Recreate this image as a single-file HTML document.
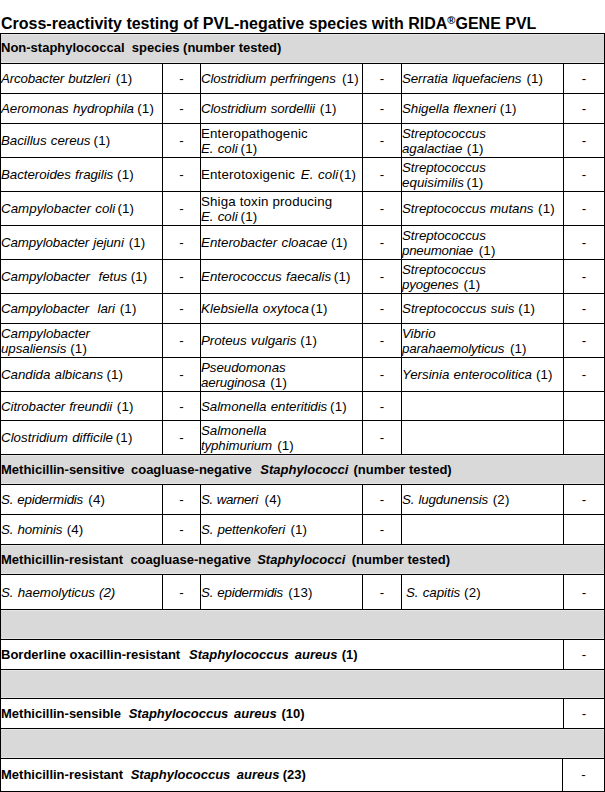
<!DOCTYPE html>
<html><head><meta charset="utf-8"><title>Cross-reactivity testing of PVL-negative species with RIDA GENE PVL</title>
<style>
html,body{margin:0;padding:0;background:#fff;}
body{width:605px;height:792px;position:relative;overflow:hidden;font-family:"Liberation Sans",Arial,sans-serif;color:#000;}
.t{position:absolute;left:1px;top:14px;font-size:16px;font-weight:bold;line-height:20px;white-space:nowrap;}
.t sup{font-size:11px;line-height:0;vertical-align:5px;}
.g{position:absolute;left:0;width:605px;background:#d9d9d9;box-shadow:inset 0 0 0 1px #e6e6e6;}
.hl,.vl{position:absolute;background:#000;}
.c{position:absolute;display:flex;align-items:center;font-size:13.33px;line-height:15px;white-space:pre;}
.c.n{padding-left:0;letter-spacing:0.15px;}
.c.h{font-weight:bold;padding-left:0;font-size:13px;}
.c.d{justify-content:center;}
.c i{letter-spacing:var(--ls,-0.05px);word-spacing:0.6px;}
.c i.f{letter-spacing:-0.05px;}
.c.h i{letter-spacing:0;word-spacing:0;}
.sp{letter-spacing:0;}
</style></head><body>
<div class="t">Cross-reactivity testing of PVL-negative species with RIDA<sup>®</sup>GENE PVL</div>

<div class="g" style="top:34px;height:29px"></div>
<div class="g" style="top:455px;height:29px"></div>
<div class="g" style="top:545px;height:29px"></div>
<div class="g" style="top:610px;height:29px"></div>
<div class="g" style="top:670px;height:28px"></div>
<div class="g" style="top:729px;height:29px"></div>
<div class="c n" style="left:1px;top:64px;width:160px;height:29px;--ls:-0.145px;"><span><i>Arcobacter butzleri</i><span class="sp" style="margin-left:2.00px"> </span>(1)</span></div>
<div class="c d" style="left:163px;top:64px;width:37px;height:29px;"><span>-</span></div>
<div class="c n" style="left:201px;top:64px;width:160px;height:29px;--ls:-0.128px;"><span><i>Clostridium perfringens</i><span class="sp" style="margin-left:2.60px"> </span>(1)</span></div>
<div class="c d" style="left:363px;top:64px;width:38px;height:29px;"><span>-</span></div>
<div class="c n" style="left:402px;top:64px;width:160px;height:29px;--ls:-0.093px;"><span><i>Serratia liquefaciens</i><span class="sp" style="margin-left:1.30px"> </span>(1)</span></div>
<div class="c d" style="left:564px;top:64px;width:40px;height:29px;"><span>-</span></div>
<div class="c n" style="left:1px;top:94px;width:160px;height:29px;"><span><i>Aeromonas hydrophila</i><span class="sp" style="margin-left:-0.40px"> </span>(1)</span></div>
<div class="c d" style="left:163px;top:94px;width:37px;height:29px;"><span>-</span></div>
<div class="c n" style="left:201px;top:94px;width:160px;height:29px;--ls:-0.107px;"><span><i>Clostridium sordellii</i><span class="sp" style="margin-left:1.20px"> </span>(1)</span></div>
<div class="c d" style="left:363px;top:94px;width:38px;height:29px;"><span>-</span></div>
<div class="c n" style="left:402px;top:94px;width:160px;height:29px;"><span><i>Shigella flexneri</i><span class="sp" style="margin-left:0.30px"> </span>(1)</span></div>
<div class="c d" style="left:564px;top:94px;width:40px;height:29px;"><span>-</span></div>
<div class="c n" style="left:1px;top:124px;width:160px;height:33px;"><span><i>Bacillus cereus</i><span class="sp" style="margin-left:-0.60px"> </span>(1)</span></div>
<div class="c d" style="left:163px;top:124px;width:37px;height:33px;"><span>-</span></div>
<div class="c n" style="left:201px;top:124px;width:160px;height:33px;"><span>Enteropathogenic<br><i>E. coli</i><span class="sp" style="margin-left:-0.70px"> </span>(1)</span></div>
<div class="c d" style="left:363px;top:124px;width:38px;height:33px;"><span>-</span></div>
<div class="c n" style="left:402px;top:124px;width:160px;height:33px;"><span><i class="f">Streptococcus</i><br><i>agalactiae</i><span class="sp" style="margin-left:0.90px"> </span>(1)</span></div>
<div class="c d" style="left:564px;top:124px;width:40px;height:33px;"><span>-</span></div>
<div class="c n" style="left:1px;top:158px;width:160px;height:33px;"><span><i>Bacteroides fragilis</i> (1)</span></div>
<div class="c d" style="left:163px;top:158px;width:37px;height:33px;"><span>-</span></div>
<div class="c n" style="left:201px;top:158px;width:160px;height:33px;--ls:0.079px;"><span>Enterotoxigenic<span class="sp" style="margin-left:2px"> </span><i>E. coli</i><span class="sp" style="margin-left:-2.70px"> </span>(1)</span></div>
<div class="c d" style="left:363px;top:158px;width:38px;height:33px;"><span>-</span></div>
<div class="c n" style="left:402px;top:158px;width:160px;height:33px;--ls:0.041px;"><span><i class="f">Streptococcus</i><br><i>equisimilis</i><span class="sp" style="margin-left:-1.10px"> </span>(1)</span></div>
<div class="c d" style="left:564px;top:158px;width:40px;height:33px;"><span>-</span></div>
<div class="c n" style="left:1px;top:192px;width:160px;height:33px;--ls:0.022px;"><span><i>Campylobacter coli</i><span class="sp" style="margin-left:-1.60px"> </span>(1)</span></div>
<div class="c d" style="left:163px;top:192px;width:37px;height:33px;"><span>-</span></div>
<div class="c n" style="left:201px;top:192px;width:160px;height:33px;"><span>Shiga toxin producing<br><i>E. coli</i><span class="sp" style="margin-left:-0.70px"> </span>(1)</span></div>
<div class="c d" style="left:363px;top:192px;width:38px;height:33px;"><span>-</span></div>
<div class="c n" style="left:402px;top:192px;width:160px;height:33px;"><span><i>Streptococcus mutans</i><span class="sp" style="margin-left:0.90px"> </span>(1)</span></div>
<div class="c d" style="left:564px;top:192px;width:40px;height:33px;"><span>-</span></div>
<div class="c n" style="left:1px;top:226px;width:160px;height:33px;--ls:-0.115px;"><span><i>Campylobacter jejuni</i><span class="sp" style="margin-left:1.20px"> </span>(1)</span></div>
<div class="c d" style="left:163px;top:226px;width:37px;height:33px;"><span>-</span></div>
<div class="c n" style="left:201px;top:226px;width:160px;height:33px;--ls:-0.010px;"><span><i>Enterobacter cloacae</i><span class="sp" style="margin-left:-0.20px"> </span>(1)</span></div>
<div class="c d" style="left:363px;top:226px;width:38px;height:33px;"><span>-</span></div>
<div class="c n" style="left:402px;top:226px;width:160px;height:33px;--ls:-0.250px;"><span><i class="f">Streptococcus</i><br><i>pneumoniae</i><span class="sp" style="margin-left:2.20px"> </span>(1)</span></div>
<div class="c d" style="left:564px;top:226px;width:40px;height:33px;"><span>-</span></div>
<div class="c n" style="left:1px;top:260px;width:160px;height:33px;"><span><i>Campylobacter  fetus</i><span class="sp" style="margin-left:-0.20px"> </span>(1)</span></div>
<div class="c d" style="left:163px;top:260px;width:37px;height:33px;"><span>-</span></div>
<div class="c n" style="left:201px;top:260px;width:160px;height:33px;--ls:-0.002px;"><span><i>Enterococcus faecalis</i><span class="sp" style="margin-left:-1.10px"> </span>(1)</span></div>
<div class="c d" style="left:363px;top:260px;width:38px;height:33px;"><span>-</span></div>
<div class="c n" style="left:402px;top:260px;width:160px;height:33px;--ls:-0.150px;"><span><i class="f">Streptococcus</i><br><i>pyogenes</i><span class="sp" style="margin-left:1.20px"> </span>(1)</span></div>
<div class="c d" style="left:564px;top:260px;width:40px;height:33px;"><span>-</span></div>
<div class="c n" style="left:1px;top:294px;width:160px;height:29px;--ls:-0.113px;"><span><i>Campylobacter  lari</i><span class="sp" style="margin-left:1.20px"> </span>(1)</span></div>
<div class="c d" style="left:163px;top:294px;width:37px;height:29px;"><span>-</span></div>
<div class="c n" style="left:201px;top:294px;width:160px;height:29px;--ls:0.039px;"><span><i>Klebsiella oxytoca</i><span class="sp" style="margin-left:-1.90px"> </span>(1)</span></div>
<div class="c d" style="left:363px;top:294px;width:38px;height:29px;"><span>-</span></div>
<div class="c n" style="left:402px;top:294px;width:160px;height:29px;--ls:0.000px;"><span><i>Streptococcus suis</i> (1)</span></div>
<div class="c d" style="left:564px;top:294px;width:40px;height:29px;"><span>-</span></div>
<div class="c n" style="left:1px;top:324px;width:160px;height:33px;"><span><i class="f">Campylobacter</i><br><i>upsaliensis</i><span class="sp" style="margin-left:0.20px"> </span>(1)</span></div>
<div class="c d" style="left:163px;top:324px;width:37px;height:33px;"><span>-</span></div>
<div class="c n" style="left:201px;top:324px;width:160px;height:33px;"><span><i>Proteus vulgaris</i> (1)</span></div>
<div class="c d" style="left:363px;top:324px;width:38px;height:33px;"><span>-</span></div>
<div class="c n" style="left:402px;top:324px;width:160px;height:33px;--ls:-0.131px;"><span><i class="f">Vibrio</i><br><i>parahaemolyticus</i><span class="sp" style="margin-left:1.80px"> </span>(1)</span></div>
<div class="c d" style="left:564px;top:324px;width:40px;height:33px;"><span>-</span></div>
<div class="c n" style="left:1px;top:358px;width:160px;height:33px;"><span><i>Candida albicans</i><span class="sp" style="margin-left:-0.40px"> </span>(1)</span></div>
<div class="c d" style="left:163px;top:358px;width:37px;height:33px;"><span>-</span></div>
<div class="c n" style="left:201px;top:358px;width:160px;height:33px;--ls:-0.180px;"><span><i class="f">Pseudomonas</i><br><i>aeruginosa</i><span class="sp" style="margin-left:1.40px"> </span>(1)</span></div>
<div class="c d" style="left:363px;top:358px;width:38px;height:33px;"><span>-</span></div>
<div class="c n" style="left:402px;top:358px;width:160px;height:33px;--ls:-0.011px;"><span><i>Yersinia enterocolitica</i><span class="sp" style="margin-left:0.20px"> </span>(1)</span></div>
<div class="c d" style="left:564px;top:358px;width:40px;height:33px;"><span>-</span></div>
<div class="c n" style="left:1px;top:392px;width:160px;height:28px;--ls:-0.105px;"><span><i>Citrobacter freundii</i><span class="sp" style="margin-left:1.00px"> </span>(1)</span></div>
<div class="c d" style="left:163px;top:392px;width:37px;height:28px;"><span>-</span></div>
<div class="c n" style="left:201px;top:392px;width:160px;height:28px;"><span><i>Salmonella enteritidis</i><span class="sp" style="margin-left:-0.80px"> </span>(1)</span></div>
<div class="c d" style="left:363px;top:392px;width:38px;height:28px;"><span>-</span></div>
<div class="c n" style="left:1px;top:421px;width:160px;height:33px;--ls:0.017px;"><span><i>Clostridium difficile</i><span class="sp" style="margin-left:-1.00px"> </span>(1)</span></div>
<div class="c d" style="left:163px;top:421px;width:37px;height:33px;"><span>-</span></div>
<div class="c n" style="left:201px;top:421px;width:160px;height:33px;--ls:-0.141px;"><span><i class="f">Salmonella</i><br><i>typhimurium</i><span class="sp" style="margin-left:1.40px"> </span>(1)</span></div>
<div class="c d" style="left:363px;top:421px;width:38px;height:33px;"><span>-</span></div>
<div class="c h" style="left:1px;top:34px;width:602px;height:29px;padding-bottom:2px;box-sizing:border-box"><span>Non-staphylococcal  species (number tested)</span></div>
<div class="c h" style="left:1px;top:455px;width:602px;height:29px;"><span>Methicillin-sensitive<span class="sp" style="margin-left:2.8px"> </span>coagluase-negative<span class="sp" style="margin-left:1.4px"> </span> <i>Staphylococci</i><span class="sp" style="margin-left:1.4px"> </span>(number tested)</span></div>
<div class="c n" style="left:1px;top:485px;width:160px;height:29px;--ls:-0.214px;"><span><i>S. epidermidis</i><span class="sp" style="margin-left:1.60px"> </span>(4)</span></div>
<div class="c d" style="left:163px;top:485px;width:37px;height:29px;"><span>-</span></div>
<div class="c n" style="left:201px;top:485px;width:160px;height:29px;--ls:-0.390px;"><span><i>S. warneri</i><span class="sp" style="margin-left:3.20px"> </span>(4)</span></div>
<div class="c d" style="left:363px;top:485px;width:38px;height:29px;"><span>-</span></div>
<div class="c n" style="left:402px;top:485px;width:160px;height:29px;--ls:-0.143px;"><span><i>S. lugdunensis</i><span class="sp" style="margin-left:1.00px"> </span>(2)</span></div>
<div class="c d" style="left:564px;top:485px;width:40px;height:29px;"><span>-</span></div>
<div class="c n" style="left:1px;top:515px;width:160px;height:29px;--ls:-0.150px;"><span><i>S. hominis</i><span class="sp" style="margin-left:0.70px"> </span>(4)</span></div>
<div class="c d" style="left:163px;top:515px;width:37px;height:29px;"><span>-</span></div>
<div class="c n" style="left:201px;top:515px;width:160px;height:29px;--ls:-0.163px;"><span><i>S. pettenkoferi</i><span class="sp" style="margin-left:1.60px"> </span>(1)</span></div>
<div class="c d" style="left:363px;top:515px;width:38px;height:29px;"><span>-</span></div>
<div class="c h" style="left:1px;top:545px;width:602px;height:29px;"><span>Methicillin-resistant<span class="sp" style="margin-left:3.7px"> </span>coagluase-negative<span class="sp" style="margin-left:-1.1px"> </span> <i>Staphylococci</i><span class="sp" style="margin-left:2.8px"> </span>(number tested)</span></div>
<div class="c n" style="left:1px;top:575px;width:160px;height:34px;"><span><i>S. haemolyticus</i><span class="sp" style="margin-left:0.40px"> </span><i>(2)</i></span></div>
<div class="c d" style="left:163px;top:575px;width:37px;height:34px;"><span>-</span></div>
<div class="c n" style="left:201px;top:575px;width:160px;height:34px;--ls:-0.214px;"><span><i>S. epidermidis</i><span class="sp" style="margin-left:1.50px"> </span>(13)</span></div>
<div class="c d" style="left:363px;top:575px;width:38px;height:34px;"><span>-</span></div>
<div class="c n" style="left:402px;top:575px;width:160px;height:34px;"><span><span style="margin-left:4px"></span><i>S. capitis</i><span class="sp" style="margin-left:0.20px"> </span>(2)</span></div>
<div class="c d" style="left:564px;top:575px;width:40px;height:34px;"><span>-</span></div>
<div class="c h" style="left:1px;top:640px;width:561px;height:29px;"><span>Borderline oxacillin-resistant <span class="sp" style="margin-left:1.6px"> </span><i>Staphylococcus<span class="sp" style="margin-left:2.5px"> </span>aureus</i><span class="sp" style="margin-left:0.7px"> </span>(1)</span></div>
<div class="c d" style="left:564px;top:640px;width:40px;height:29px;"><span>-</span></div>
<div class="c h" style="left:1px;top:699px;width:561px;height:29px;"><span>Methicillin-sensible <span class="sp" style="margin-left:0.5px"> </span><i>Staphylococcus<span class="sp" style="margin-left:2.1px"> </span>aureus</i><span class="sp" style="margin-left:1.2px"> </span>(10)</span></div>
<div class="c d" style="left:564px;top:699px;width:40px;height:29px;"><span>-</span></div>
<div class="c h" style="left:1px;top:759px;width:560px;height:32px;padding-bottom:2px;box-sizing:border-box"><span>Methicillin-resistant <span class="sp" style="margin-left:0.3px"> </span><i>Staphylococcus<span class="sp" style="margin-left:2.8px"> </span>aureus</i><span class="sp" style="margin-left:-0.4px"> </span>(23)</span></div>
<div class="c d" style="left:563px;top:759px;width:41px;height:32px;padding-bottom:2px;box-sizing:border-box"><span>-</span></div>
<div class="hl" style="left:0px;top:93px;width:605px;height:1px"></div>
<div class="hl" style="left:0px;top:123px;width:605px;height:1px"></div>
<div class="hl" style="left:0px;top:157px;width:605px;height:1px"></div>
<div class="hl" style="left:0px;top:191px;width:605px;height:1px"></div>
<div class="hl" style="left:0px;top:225px;width:605px;height:1px"></div>
<div class="hl" style="left:0px;top:259px;width:605px;height:1px"></div>
<div class="hl" style="left:0px;top:293px;width:605px;height:1px"></div>
<div class="hl" style="left:0px;top:323px;width:605px;height:1px"></div>
<div class="hl" style="left:0px;top:357px;width:605px;height:1px"></div>
<div class="hl" style="left:0px;top:391px;width:605px;height:1px"></div>
<div class="hl" style="left:0px;top:420px;width:605px;height:1px"></div>
<div class="hl" style="left:0px;top:454px;width:605px;height:1px"></div>
<div class="hl" style="left:0px;top:33px;width:605px;height:1px"></div>
<div class="hl" style="left:0px;top:63px;width:605px;height:1px"></div>
<div class="hl" style="left:0px;top:484px;width:605px;height:1px"></div>
<div class="hl" style="left:0px;top:514px;width:605px;height:1px"></div>
<div class="hl" style="left:0px;top:544px;width:605px;height:1px"></div>
<div class="hl" style="left:0px;top:574px;width:605px;height:1px"></div>
<div class="hl" style="left:0px;top:609px;width:605px;height:1px"></div>
<div class="hl" style="left:0px;top:639px;width:605px;height:1px"></div>
<div class="hl" style="left:0px;top:669px;width:605px;height:1px"></div>
<div class="hl" style="left:0px;top:698px;width:605px;height:1px"></div>
<div class="hl" style="left:0px;top:728px;width:605px;height:1px"></div>
<div class="hl" style="left:0px;top:758px;width:605px;height:1px"></div>
<div class="hl" style="left:0px;top:791px;width:605px;height:1px"></div>
<div class="vl" style="left:0px;top:63px;width:1px;height:31px"></div>
<div class="vl" style="left:162px;top:63px;width:1px;height:31px"></div>
<div class="vl" style="left:200px;top:63px;width:1px;height:31px"></div>
<div class="vl" style="left:362px;top:63px;width:1px;height:31px"></div>
<div class="vl" style="left:401px;top:63px;width:1px;height:31px"></div>
<div class="vl" style="left:563px;top:63px;width:1px;height:31px"></div>
<div class="vl" style="left:604px;top:63px;width:1px;height:31px"></div>
<div class="vl" style="left:0px;top:93px;width:1px;height:31px"></div>
<div class="vl" style="left:162px;top:93px;width:1px;height:31px"></div>
<div class="vl" style="left:200px;top:93px;width:1px;height:31px"></div>
<div class="vl" style="left:362px;top:93px;width:1px;height:31px"></div>
<div class="vl" style="left:401px;top:93px;width:1px;height:31px"></div>
<div class="vl" style="left:563px;top:93px;width:1px;height:31px"></div>
<div class="vl" style="left:604px;top:93px;width:1px;height:31px"></div>
<div class="vl" style="left:0px;top:123px;width:1px;height:35px"></div>
<div class="vl" style="left:162px;top:123px;width:1px;height:35px"></div>
<div class="vl" style="left:200px;top:123px;width:1px;height:35px"></div>
<div class="vl" style="left:362px;top:123px;width:1px;height:35px"></div>
<div class="vl" style="left:401px;top:123px;width:1px;height:35px"></div>
<div class="vl" style="left:563px;top:123px;width:1px;height:35px"></div>
<div class="vl" style="left:604px;top:123px;width:1px;height:35px"></div>
<div class="vl" style="left:0px;top:157px;width:1px;height:35px"></div>
<div class="vl" style="left:162px;top:157px;width:1px;height:35px"></div>
<div class="vl" style="left:200px;top:157px;width:1px;height:35px"></div>
<div class="vl" style="left:362px;top:157px;width:1px;height:35px"></div>
<div class="vl" style="left:401px;top:157px;width:1px;height:35px"></div>
<div class="vl" style="left:563px;top:157px;width:1px;height:35px"></div>
<div class="vl" style="left:604px;top:157px;width:1px;height:35px"></div>
<div class="vl" style="left:0px;top:191px;width:1px;height:35px"></div>
<div class="vl" style="left:162px;top:191px;width:1px;height:35px"></div>
<div class="vl" style="left:200px;top:191px;width:1px;height:35px"></div>
<div class="vl" style="left:362px;top:191px;width:1px;height:35px"></div>
<div class="vl" style="left:401px;top:191px;width:1px;height:35px"></div>
<div class="vl" style="left:563px;top:191px;width:1px;height:35px"></div>
<div class="vl" style="left:604px;top:191px;width:1px;height:35px"></div>
<div class="vl" style="left:0px;top:225px;width:1px;height:35px"></div>
<div class="vl" style="left:162px;top:225px;width:1px;height:35px"></div>
<div class="vl" style="left:200px;top:225px;width:1px;height:35px"></div>
<div class="vl" style="left:362px;top:225px;width:1px;height:35px"></div>
<div class="vl" style="left:401px;top:225px;width:1px;height:35px"></div>
<div class="vl" style="left:563px;top:225px;width:1px;height:35px"></div>
<div class="vl" style="left:604px;top:225px;width:1px;height:35px"></div>
<div class="vl" style="left:0px;top:259px;width:1px;height:35px"></div>
<div class="vl" style="left:162px;top:259px;width:1px;height:35px"></div>
<div class="vl" style="left:200px;top:259px;width:1px;height:35px"></div>
<div class="vl" style="left:362px;top:259px;width:1px;height:35px"></div>
<div class="vl" style="left:401px;top:259px;width:1px;height:35px"></div>
<div class="vl" style="left:563px;top:259px;width:1px;height:35px"></div>
<div class="vl" style="left:604px;top:259px;width:1px;height:35px"></div>
<div class="vl" style="left:0px;top:293px;width:1px;height:31px"></div>
<div class="vl" style="left:162px;top:293px;width:1px;height:31px"></div>
<div class="vl" style="left:200px;top:293px;width:1px;height:31px"></div>
<div class="vl" style="left:362px;top:293px;width:1px;height:31px"></div>
<div class="vl" style="left:401px;top:293px;width:1px;height:31px"></div>
<div class="vl" style="left:563px;top:293px;width:1px;height:31px"></div>
<div class="vl" style="left:604px;top:293px;width:1px;height:31px"></div>
<div class="vl" style="left:0px;top:323px;width:1px;height:35px"></div>
<div class="vl" style="left:162px;top:323px;width:1px;height:35px"></div>
<div class="vl" style="left:200px;top:323px;width:1px;height:35px"></div>
<div class="vl" style="left:362px;top:323px;width:1px;height:35px"></div>
<div class="vl" style="left:401px;top:323px;width:1px;height:35px"></div>
<div class="vl" style="left:563px;top:323px;width:1px;height:35px"></div>
<div class="vl" style="left:604px;top:323px;width:1px;height:35px"></div>
<div class="vl" style="left:0px;top:357px;width:1px;height:35px"></div>
<div class="vl" style="left:162px;top:357px;width:1px;height:35px"></div>
<div class="vl" style="left:200px;top:357px;width:1px;height:35px"></div>
<div class="vl" style="left:362px;top:357px;width:1px;height:35px"></div>
<div class="vl" style="left:401px;top:357px;width:1px;height:35px"></div>
<div class="vl" style="left:563px;top:357px;width:1px;height:35px"></div>
<div class="vl" style="left:604px;top:357px;width:1px;height:35px"></div>
<div class="vl" style="left:0px;top:391px;width:1px;height:30px"></div>
<div class="vl" style="left:162px;top:391px;width:1px;height:30px"></div>
<div class="vl" style="left:200px;top:391px;width:1px;height:30px"></div>
<div class="vl" style="left:362px;top:391px;width:1px;height:30px"></div>
<div class="vl" style="left:401px;top:391px;width:1px;height:30px"></div>
<div class="vl" style="left:563px;top:391px;width:1px;height:30px"></div>
<div class="vl" style="left:604px;top:391px;width:1px;height:30px"></div>
<div class="vl" style="left:0px;top:420px;width:1px;height:35px"></div>
<div class="vl" style="left:162px;top:420px;width:1px;height:35px"></div>
<div class="vl" style="left:200px;top:420px;width:1px;height:35px"></div>
<div class="vl" style="left:362px;top:420px;width:1px;height:35px"></div>
<div class="vl" style="left:401px;top:420px;width:1px;height:35px"></div>
<div class="vl" style="left:563px;top:420px;width:1px;height:35px"></div>
<div class="vl" style="left:604px;top:420px;width:1px;height:35px"></div>
<div class="vl" style="left:0px;top:33px;width:1px;height:31px"></div>
<div class="vl" style="left:604px;top:33px;width:1px;height:31px"></div>
<div class="vl" style="left:0px;top:454px;width:1px;height:31px"></div>
<div class="vl" style="left:604px;top:454px;width:1px;height:31px"></div>
<div class="vl" style="left:0px;top:484px;width:1px;height:31px"></div>
<div class="vl" style="left:162px;top:484px;width:1px;height:31px"></div>
<div class="vl" style="left:200px;top:484px;width:1px;height:31px"></div>
<div class="vl" style="left:362px;top:484px;width:1px;height:31px"></div>
<div class="vl" style="left:401px;top:484px;width:1px;height:31px"></div>
<div class="vl" style="left:563px;top:484px;width:1px;height:31px"></div>
<div class="vl" style="left:604px;top:484px;width:1px;height:31px"></div>
<div class="vl" style="left:0px;top:514px;width:1px;height:31px"></div>
<div class="vl" style="left:162px;top:514px;width:1px;height:31px"></div>
<div class="vl" style="left:200px;top:514px;width:1px;height:31px"></div>
<div class="vl" style="left:362px;top:514px;width:1px;height:31px"></div>
<div class="vl" style="left:401px;top:514px;width:1px;height:31px"></div>
<div class="vl" style="left:563px;top:514px;width:1px;height:31px"></div>
<div class="vl" style="left:604px;top:514px;width:1px;height:31px"></div>
<div class="vl" style="left:0px;top:544px;width:1px;height:31px"></div>
<div class="vl" style="left:604px;top:544px;width:1px;height:31px"></div>
<div class="vl" style="left:0px;top:574px;width:1px;height:36px"></div>
<div class="vl" style="left:162px;top:574px;width:1px;height:36px"></div>
<div class="vl" style="left:200px;top:574px;width:1px;height:36px"></div>
<div class="vl" style="left:362px;top:574px;width:1px;height:36px"></div>
<div class="vl" style="left:401px;top:574px;width:1px;height:36px"></div>
<div class="vl" style="left:563px;top:574px;width:1px;height:36px"></div>
<div class="vl" style="left:604px;top:574px;width:1px;height:36px"></div>
<div class="vl" style="left:0px;top:609px;width:1px;height:31px"></div>
<div class="vl" style="left:604px;top:609px;width:1px;height:31px"></div>
<div class="vl" style="left:0px;top:639px;width:1px;height:31px"></div>
<div class="vl" style="left:563px;top:639px;width:1px;height:31px"></div>
<div class="vl" style="left:604px;top:639px;width:1px;height:31px"></div>
<div class="vl" style="left:0px;top:669px;width:1px;height:30px"></div>
<div class="vl" style="left:604px;top:669px;width:1px;height:30px"></div>
<div class="vl" style="left:0px;top:698px;width:1px;height:31px"></div>
<div class="vl" style="left:563px;top:698px;width:1px;height:31px"></div>
<div class="vl" style="left:604px;top:698px;width:1px;height:31px"></div>
<div class="vl" style="left:0px;top:728px;width:1px;height:31px"></div>
<div class="vl" style="left:604px;top:728px;width:1px;height:31px"></div>
<div class="vl" style="left:0px;top:758px;width:1px;height:34px"></div>
<div class="vl" style="left:562px;top:758px;width:1px;height:34px"></div>
<div class="vl" style="left:604px;top:758px;width:1px;height:34px"></div>
</body></html>
